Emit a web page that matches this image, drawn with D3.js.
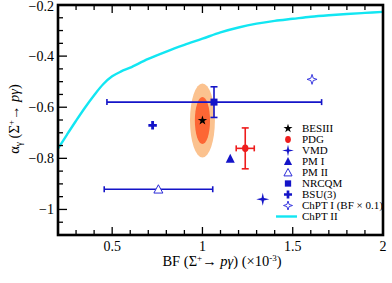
<!DOCTYPE html>
<html><head><meta charset="utf-8">
<script src="https://cdn.jsdelivr.net/npm/d3@7"></script>
<style>html,body{margin:0;padding:0;background:#fff;} svg{display:block;font-family:"Liberation Serif","DejaVu Serif",serif;}</style>
</head><body>
<script>
// ---- data ----
const xTicks = [0.5, 1, 1.5, 2];
const xTickLabels = ["0.5", "1", "1.5", "2"];
const yTicks = [-0.2, -0.4, -0.6, -0.8, -1];
const yTickLabels = ["\u22120.2", "\u22120.4", "\u22120.6", "\u22120.8", "\u22121"];

const legendNames = ["BESIII", "PDG", "VMD", "PM I", "PM II", "NRCQM", "BSU(3)", "ChPT I (BF \u00d7 0.1)", "ChPT II"];

// BESIII measurement and its two contour ellipses (half-widths)
const besiiiBF = [1.0];
const besiiiAlpha = [-0.652];
const ellipseHalfBF = [0.069, 0.042];
const ellipseHalfAlpha = [0.145, 0.092];

// Points: PDG, VMD, PM I, PM II, NRCQM, BSU(3), ChPT I
const pointNames = ["PDG", "VMD", "PM I", "PM II", "NRCQM", "BSU(3)", "ChPT I"];
const pointBF    = [1.237, 1.334, 1.154, 0.756, 1.064, 0.724, 1.607];
const pointAlpha = [-0.761, -0.960, -0.802, -0.921, -0.580, -0.671, -0.491];
const bfLow      = [1.187, null, null, 0.456, 0.471, null, null];
const bfHigh     = [1.287, null, null, 1.057, 1.660, null, null];
const alphaLow   = [-0.841, null, null, null, -0.640, null, null];
const alphaHigh  = [-0.681, null, null, null, -0.520, null, null];

// ChPT II curve
const chptBF    = [0.2, 0.25, 0.3, 0.35, 0.4, 0.45, 0.5, 0.55, 0.6, 0.7, 0.8, 0.9, 1.0, 1.1, 1.2, 1.3, 1.4, 1.5, 1.6, 1.7, 1.8, 1.9, 2.0];
const chptAlpha = [-0.762, -0.707, -0.653, -0.601, -0.553, -0.510, -0.479, -0.460, -0.445, -0.411, -0.382, -0.356, -0.332, -0.307, -0.288, -0.273, -0.262, -0.254, -0.246, -0.240, -0.235, -0.231, -0.227];

// ---- drawing ----
const W = 392, H = 283;
const blue = "#1414c8", red = "#ee1c1c", cyan = "#12e6f2";
const svg = d3.select("body").append("svg").attr("width", W).attr("height", H);
const x = d3.scaleLinear().domain([0.2, 2]).range([58, 383]);
const y = d3.scaleLinear().domain([-1.1, -0.2]).range([235, 5]);

const g = svg.append("g");
svg.append("clipPath").attr("id", "c").append("rect")
  .attr("x", x(0.2)).attr("y", y(-0.2)).attr("width", x(2) - x(0.2)).attr("height", y(-1.1) - y(-0.2));
const plot = g.append("g").attr("clip-path", "url(#c)");

// ellipses
ellipseHalfBF.forEach((hb, i) => {
  plot.append("ellipse")
    .attr("cx", x(besiiiBF[0])).attr("cy", y(besiiiAlpha[0]))
    .attr("rx", x(besiiiBF[0] + hb) - x(besiiiBF[0]))
    .attr("ry", y(besiiiAlpha[0] - ellipseHalfAlpha[i]) - y(besiiiAlpha[0]))
    .attr("fill", i === 0 ? "#fbc28f" : "#fd6634");
});

// ChPT II curve
plot.append("path")
  .datum(chptBF.map((b, i) => [b, chptAlpha[i]]))
  .attr("d", d3.line().x(d => x(d[0])).y(d => y(d[1])).curve(d3.curveCatmullRom.alpha(0.5)))
  .attr("fill", "none").attr("stroke", cyan).attr("stroke-width", 2.4);

// error bars
const colors = [red, blue, blue, blue, blue, blue, "#3a3ae0"];
pointBF.forEach((b, i) => {
  const c = colors[i];
  if (bfLow[i] !== null) {
    plot.append("line").attr("x1", x(bfLow[i])).attr("x2", x(bfHigh[i]))
      .attr("y1", y(pointAlpha[i])).attr("y2", y(pointAlpha[i])).attr("stroke", c).attr("stroke-width", 1.6);
    [bfLow[i], bfHigh[i]].forEach(v => plot.append("line").attr("x1", x(v)).attr("x2", x(v))
      .attr("y1", y(pointAlpha[i]) - 3).attr("y2", y(pointAlpha[i]) + 3).attr("stroke", c).attr("stroke-width", 1.6));
  }
  if (alphaLow[i] !== null) {
    plot.append("line").attr("x1", x(b)).attr("x2", x(b))
      .attr("y1", y(alphaLow[i])).attr("y2", y(alphaHigh[i])).attr("stroke", c).attr("stroke-width", 1.6);
    [alphaLow[i], alphaHigh[i]].forEach(v => plot.append("line").attr("x1", x(b) - 3.5).attr("x2", x(b) + 3.5)
      .attr("y1", y(v)).attr("y2", y(v)).attr("stroke", c).attr("stroke-width", 1.6));
  }
});

// marker factory
function star4(R, r) {
  const pts = [];
  for (let k = 0; k < 8; k++) {
    const a = k * Math.PI / 4 - Math.PI / 2;
    const rad = k % 2 === 0 ? R : r;
    pts.push([rad * Math.cos(a), rad * Math.sin(a)]);
  }
  return "M" + pts.map(p => p.join(",")).join("L") + "Z";
}
function marker(sel, name, cx, cy, s) {
  const t = sel.append("g").attr("transform", `translate(${cx},${cy})`);
  switch (name) {
    case "BESIII":
      t.append("path").attr("d", d3.symbol(d3.symbolStar, 28 * s)()).attr("fill", "#000"); break;
    case "PDG":
      t.append("ellipse").attr("rx", 3.2 * s).attr("ry", 3.8 * s).attr("fill", red); break;
    case "VMD":
      t.append("path").attr("d", star4(6.5 * s, 1.7 * s)).attr("fill", blue); break;
    case "PM I":
      t.append("path").attr("d", `M0,${-5 * s}L${4.5 * s},${4 * s}L${-4.5 * s},${4 * s}Z`).attr("fill", blue); break;
    case "PM II":
      t.append("path").attr("d", `M0,${-4.5 * s}L${4.5 * s},${3.8 * s}L${-4.5 * s},${3.8 * s}Z`)
        .attr("fill", "#fff").attr("stroke", "#2a2ad8").attr("stroke-width", 1); break;
    case "NRCQM":
      t.append("rect").attr("x", -3.5 * s).attr("y", -3.5 * s).attr("width", 7 * s).attr("height", 7 * s).attr("fill", blue); break;
    case "BSU(3)":
      t.append("path").attr("d", d3.symbol(d3.symbolCross, 40 * s)()).attr("fill", blue); break;
    case "ChPT I":
    case "ChPT I (BF \u00d7 0.1)":
      t.append("path").attr("d", star4(5 * s, 1.7 * s)).attr("fill", "#fff").attr("stroke", "#3a3ae0").attr("stroke-width", 1); break;
  }
}

pointBF.forEach((b, i) => marker(plot, pointNames[i], x(b), y(pointAlpha[i]), 1));
marker(plot, "BESIII", x(besiiiBF[0]), y(besiiiAlpha[0]), 1);

// legend
const legX = 288, legTextX = 302, legY0 = 128.5, legDY = 11;
legendNames.forEach((n, i) => {
  const yy = legY0 + i * legDY;
  if (n === "ChPT II") {
    g.append("line").attr("x1", 276).attr("x2", 297).attr("y1", yy).attr("y2", yy).attr("stroke", cyan).attr("stroke-width", 2.4);
  } else {
    marker(g, n, legX, yy, 0.9);
  }
  g.append("text").attr("x", legTextX).attr("y", yy).attr("dy", "0.35em").attr("font-size", 11).attr("fill", "#000").text(n);
});

// axes frame & ticks
const frame = g.append("g");
frame.append("rect").attr("x", x(0.2)).attr("y", y(-0.2)).attr("width", x(2) - x(0.2)).attr("height", y(-1.1) - y(-0.2))
  .attr("fill", "none").attr("stroke", "#000").attr("stroke-width", 2.6);

const xMinor = d3.range(3, 20).map(v => v / 10);
xMinor.forEach(v => {
  const major = xTicks.some(t => Math.abs(t - v) < 1e-9);
  const len = major ? 8 : 5;
  frame.append("line").attr("x1", x(v)).attr("x2", x(v)).attr("y1", y(-1.1)).attr("y2", y(-1.1) - len).attr("stroke", "#000").attr("stroke-width", 1.3);
  frame.append("line").attr("x1", x(v)).attr("x2", x(v)).attr("y1", y(-0.2)).attr("y2", y(-0.2) + len).attr("stroke", "#000").attr("stroke-width", 1.3);
});
const yMinor = d3.range(-21, -4).map(v => v / 20);
yMinor.forEach(v => {
  const major = yTicks.some(t => Math.abs(t - v) < 1e-9);
  const len = major ? 9 : 5;
  frame.append("line").attr("x1", x(0.2)).attr("x2", x(0.2) + len).attr("y1", y(v)).attr("y2", y(v)).attr("stroke", "#000").attr("stroke-width", 1.3);
});

xTicks.forEach((t, i) => g.append("text").attr("x", x(t)).attr("y", 251).attr("text-anchor", "middle")
  .attr("font-size", 14).text(xTickLabels[i]));
yTicks.forEach((t, i) => g.append("text").attr("x", 54).attr("y", y(t) + (i === 0 ? 1 : 0)).attr("dy", "0.33em").attr("text-anchor", "end")
  .attr("font-size", 14).text(yTickLabels[i]));

// axis titles
const xt = g.append("text").attr("x", 222).attr("y", 266).attr("text-anchor", "middle").attr("font-size", 14.5);
xt.append("tspan").text("BF (\u03a3");
xt.append("tspan").attr("font-size", 9).attr("dy", -5).text("+");
xt.append("tspan").attr("dy", 5).text("\u2192 ");
xt.append("tspan").attr("font-style", "italic").text("p\u03b3");
xt.append("tspan").text(") (\u00d710");
xt.append("tspan").attr("font-size", 9).attr("dy", -5).text("-3");
xt.append("tspan").attr("dy", 5).text(")");

const yt = g.append("text").attr("transform", "translate(19,119) rotate(-90)").attr("text-anchor", "middle").attr("font-size", 14.5);
yt.append("tspan").text("\u03b1");
yt.append("tspan").attr("font-size", 9.5).attr("dy", 3).text("\u03b3");
yt.append("tspan").attr("dy", -3).text(" (\u03a3");
yt.append("tspan").attr("font-size", 9).attr("dy", -5).text("+");
yt.append("tspan").attr("dy", 5).text("\u2192 ");
yt.append("tspan").attr("font-style", "italic").text("p\u03b3");
yt.append("tspan").text(")");
</script>
</body></html>
